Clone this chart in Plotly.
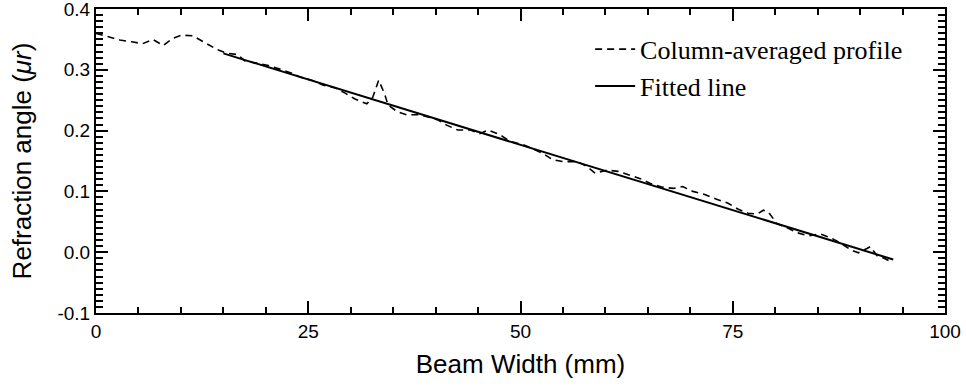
import plotly.graph_objects as go

# Column-averaged profile (dashed)
profile_x = [0.0, 1.4, 2.8, 4.2, 5.5, 6.7, 7.9, 9.1, 10.1, 11.4, 12.8, 14.3, 15.5, 16.7, 17.5,
             18.7, 20.3, 21.9, 23.4, 24.0, 25.4, 26.7, 28.2, 29.3, 30.5, 31.9, 32.6, 33.3, 34.0,
             34.4, 35.5, 36.6, 38.2, 40.2, 41.3, 42.6, 44.1, 45.2, 46.2, 47.6, 48.8, 50.3,
             52.7, 53.8, 55.0, 56.7, 57.8, 58.8, 60.2, 61.5, 62.7, 64.1, 65.3, 66.7, 68.0,
             69.1, 70.3, 71.7, 73.1, 74.4, 75.6, 76.8, 77.9, 78.6, 79.2, 80.2, 81.4, 82.6,
             83.9, 85.3, 86.5, 87.6, 89.0, 89.8, 90.8, 91.2, 92.0, 92.7, 93.8]
profile_y = [0.360, 0.354, 0.349, 0.346, 0.343, 0.350, 0.340, 0.352, 0.357, 0.356, 0.345, 0.333,
             0.327, 0.325, 0.315, 0.312, 0.307, 0.300, 0.293, 0.288, 0.283, 0.275, 0.270, 0.262,
             0.252, 0.244, 0.255, 0.283, 0.260, 0.242, 0.231, 0.226, 0.226, 0.218, 0.209, 0.201,
             0.201, 0.195, 0.201, 0.193, 0.182, 0.177, 0.162, 0.152, 0.149, 0.149, 0.141, 0.130,
             0.135, 0.133, 0.128, 0.121, 0.113, 0.107, 0.105, 0.108, 0.100, 0.095, 0.087, 0.081,
             0.071, 0.064, 0.063, 0.069, 0.066, 0.047, 0.040, 0.032, 0.027, 0.030, 0.024, 0.016,
             0.003, -0.001, 0.006, 0.009, -0.006, -0.009, -0.017]

# Fitted line (endpoints)
fit_x = [15.0, 93.9]
fit_y = [0.327, -0.012]

x_ticks = [0, 25, 50, 75, 100]
y_ticks = [-0.1, 0.0, 0.1, 0.2, 0.3, 0.4]
y_tick_text = ["-0.1", "0.0", "0.1", "0.2", "0.3", "0.4"]

fig = go.Figure()
fig.add_trace(go.Scatter(x=profile_x, y=profile_y, mode="lines",
                         name="Column-averaged profile",
                         line=dict(color="black", width=1.6, dash="7px,5px")))
fig.add_trace(go.Scatter(x=fit_x, y=fit_y, mode="lines", name="Fitted line",
                         line=dict(color="black", width=2)))

axis_common = dict(showline=True, linecolor="black", linewidth=2, mirror="allticks",
                   ticks="inside", ticklen=12, tickwidth=2, tickcolor="black",
                   showgrid=False, zeroline=False, automargin=False,
                   ticklabeloverflow="allow",
                   tickfont=dict(family="Liberation Sans, Arial", size=19, color="black"))

fig.update_xaxes(range=[0, 100], tickvals=x_ticks,
                 minor=dict(dtick=5, ticks="inside", ticklen=6, tickwidth=1.5, tickcolor="black"),
                 title=dict(text="Beam Width (mm)", standoff=14,
                            font=dict(family="Liberation Sans, Arial", size=26, color="black")),
                 **axis_common)
fig.update_yaxes(range=[-0.1, 0.4], tickvals=y_ticks, ticktext=y_tick_text,
                 minor=dict(dtick=0.01, ticks="inside", ticklen=7, tickwidth=1.5, tickcolor="black"),
                 title=dict(text="Refraction angle (<i>\u03bcr</i>)", standoff=18,
                            font=dict(family="Liberation Sans, Arial", size=26, color="black")),
                 **axis_common)

fig.update_layout(
    width=966, height=387,
    margin=dict(l=96, r=21, t=9, b=74),
    plot_bgcolor="white", paper_bgcolor="white",
    showlegend=True,
    legend=dict(x=0.582, y=0.945, xanchor="left", yanchor="top",
                bgcolor="rgba(0,0,0,0)", borderwidth=0,
                font=dict(family="Liberation Serif, Times New Roman", size=26, color="black"),
                itemwidth=40, tracegroupgap=0),
)

fig.write_html("out.html", config={"displayModeBar": False},
               post_script="document.body.style.margin='0';document.body.style.overflow='hidden';")
